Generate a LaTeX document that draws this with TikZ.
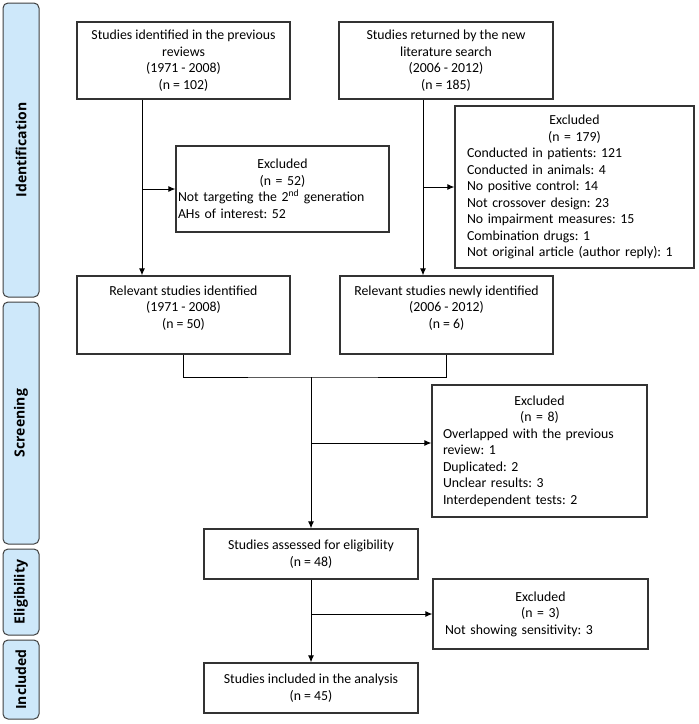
\documentclass[tikz,border=0pt]{standalone}
\usepackage{fontspec}
\setmainfont{Carlito}
\newfontfamily\phasefont{Open Sans}
\usetikzlibrary{arrows.meta}

\definecolor{phaseblue}{RGB}{206, 232, 250}

% centred heading line inside a left-aligned box
\newcommand{\exclhead}[1]{\hspace*{\fill}#1\hspace*{\fill}\mbox{}}

\tikzset{
	box/.style = {draw = black!80, line width = 1.2pt, align = center, inner xsep = 2pt, inner ysep = 0pt},
	exclbox/.style = {box, align = left},
	phase/.style = {draw = black!75, fill = phaseblue, line width = 1pt, rounded corners = 5pt, rotate = 90, minimum height = 36pt, inner sep = 0pt, font = \phasefont\fontsize{14}{16}\selectfont\bfseries}
}

\begin{document}
\begin{tikzpicture}[> = {Latex[length = 7pt, width = 6pt]}, x = 1pt, y = -1pt, font = \fontsize{13.8}{16.5}\selectfont\frenchspacing, line width = 1pt]

	\useasboundingbox (0, 0) rectangle (699, 724);

	% Phase bars on the left
	
	\node [phase, minimum width = 294pt] (ident) at (21, 150) {Identification};
	\node [phase, minimum width = 242pt] (screen) at (21, 423) {Screening};
	\node [phase, minimum width = 86pt] (elig) at (21, 592) {Eligibility};
	\node [phase, minimum width = 79pt] (incl) at (21, 679.5) {Included};
	
	% Identification
	
	\node [box, minimum width = 213pt, minimum height = 77pt] (prev) at (183.5, 60.5) {Studies identified in the previous\\reviews\\(1971 - 2008)\\(n = 102)};
	\node [box, minimum width = 214pt, minimum height = 77pt] (search) at (446, 60.5) {Studies returned by the new\\literature search\\(2006 - 2012)\\(n = 185)};
	\node [exclbox, text width = 209pt, minimum height = 86pt] (excla) at (282.5, 189) {\exclhead{Excluded}\\\exclhead{(n = 52)}\\Not targeting the 2\textsuperscript{nd} generation\\AHs of interest: 52};
	\node [exclbox, inner xsep = 12pt, text width = 215pt, minimum height = 162pt] (exclb) at (574.5, 187) {\exclhead{Excluded}\\\exclhead{(n = 179)}\\Conducted in patients: 121\\Conducted in animals: 4\\No positive control: 14\\Not crossover design: 23\\No impairment measures: 15\\Combination drugs: 1\\Not original article (author reply): 1};
	
	% Screening
	
	\node [box, minimum width = 213pt, minimum height = 78pt] (relold) at (183.5, 315) {Relevant studies identified\\(1971 - 2008)\\(n = 50)\\~};
	\node [box, minimum width = 213pt, minimum height = 78pt] (relnew) at (446.5, 315) {Relevant studies newly identified\\(2006 - 2012)\\(n = 6)\\~};
	\node [exclbox, inner xsep = 11pt, text width = 193pt, minimum height = 132pt] (exclc) at (539.5, 451) {\exclhead{Excluded}\\\exclhead{(n = 8)}\\Overlapped with the previous\\review: 1\\Duplicated: 2\\Unclear results: 3\\Interdependent tests: 2};
	
	% Eligibility and inclusion
	
	\node [box, minimum width = 214pt, minimum height = 50pt] (assess) at (311, 554) {Studies assessed for eligibility\\(n = 48)};
	\node [exclbox, inner xsep = 12pt, text width = 191pt, minimum height = 70pt] (excld) at (540.5, 614) {\exclhead{Excluded}\\\exclhead{(n = 3)}\\Not showing sensitivity: 3};
	\node [box, minimum width = 214pt, minimum height = 50pt] (final) at (311, 688) {Studies included in the analysis\\(n = 45)};
	
	% Connectors
	
	\coordinate (lx) at (142, 0);
	\coordinate (rx) at (423, 0);
	\coordinate (join) at (311, 377);
	\coordinate (split) at (311, 443);
	
	\draw [->] (prev.south -| lx) -- (relold.north -| lx);
	\draw [->] (excla.west -| lx) -- (excla.west);
	\draw [->] (search.south -| rx) -- (relnew.north -| rx);
	\draw [->] (exclb.west -| rx) -- (exclb.west);
	\draw (relold.south) |- (join) -| (relnew.south);
	\draw [->] (join) -- (assess.north);
	\draw [->] (split) -- (split -| exclc.west);
	\draw [->] (assess.south) -- (final.north);
	\draw [->] (excld.west -| assess.south) -- (excld.west);
	
\end{tikzpicture}
\end{document}
